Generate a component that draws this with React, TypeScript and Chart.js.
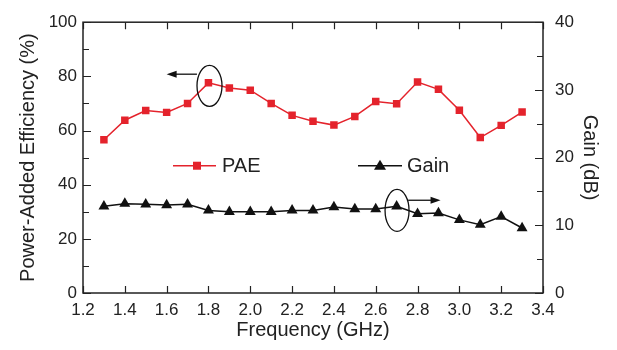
import React, { useEffect, useRef } from "react";
import { Chart, registerables } from "chart.js";

Chart.register(...registerables);

// ---- data ----
const frequencies = [1.3, 1.4, 1.5, 1.6, 1.7, 1.8, 1.9, 2.0, 2.1, 2.2, 2.3, 2.4, 2.5, 2.6, 2.7, 2.8, 2.9, 3.0, 3.1, 3.2, 3.3];
const paeValues = [56.6, 63.8, 67.4, 66.7, 70.0, 77.6, 75.7, 74.9, 70.0, 65.6, 63.4, 62.0, 65.2, 70.7, 69.9, 77.9, 75.2, 67.5, 57.4, 61.9, 66.8];
const gainValues = [12.8, 13.2, 13.1, 13.0, 13.1, 12.2, 12.0, 12.0, 12.0, 12.2, 12.2, 12.7, 12.4, 12.4, 12.8, 11.7, 11.8, 10.8, 10.1, 11.3, 9.6];
const seriesNames = ["PAE", "Gain"];
const xTickRange = [1.2, 3.4];
const paeAxisRange = [0, 100];
const gainAxisRange = [0, 40];

const RED = "#e4232c";
const BLACK = "#111111";
const TEXT = "#222222";
const FONT = "'Liberation Sans', Arial, sans-serif";

const decorPlugin = {
  id: "decor",
  afterDraw(chart: any) {
    const { ctx, chartArea } = chart;
    const { left, right, top, bottom } = chartArea;
    const xs = chart.scales.x;
    const ys = chart.scales.y;
    const y2 = chart.scales.y2;
    ctx.save();
    // frame
    ctx.strokeStyle = "#222";
    ctx.lineWidth = 1.5;
    ctx.strokeRect(left, top, right - left, bottom - top);

    // ticks
    ctx.lineWidth = 1.2;
    ctx.beginPath();
    for (let v = xTickRange[0]; v <= xTickRange[1] + 1e-6; v += 0.2) {
      const px = Math.round(xs.getPixelForValue(v)) + 0.5;
      ctx.moveTo(px, bottom);
      ctx.lineTo(px, bottom - 7);
      ctx.moveTo(px, top);
      ctx.lineTo(px, top + 7);
    }
    for (let v = paeAxisRange[0]; v <= paeAxisRange[1]; v += 10) {
      const py = Math.round(ys.getPixelForValue(v)) + 0.5;
      const len = v % 20 === 0 ? 8 : 6;
      ctx.moveTo(left, py);
      ctx.lineTo(left + len, py);
    }
    for (let v = gainAxisRange[0]; v <= gainAxisRange[1]; v += 5) {
      const py = Math.round(y2.getPixelForValue(v)) + 0.5;
      const len = v % 10 === 0 ? 8 : 6;
      ctx.moveTo(right, py);
      ctx.lineTo(right - len, py);
    }
    ctx.stroke();

    // legend
    const ly = top + (bottom - top) * 0.53;
    ctx.font = `20px ${FONT}`;
    ctx.textBaseline = "middle";
    // PAE
    ctx.strokeStyle = RED;
    ctx.lineWidth = 1.5;
    ctx.beginPath();
    ctx.moveTo(173, ly);
    ctx.lineTo(216, ly);
    ctx.stroke();
    ctx.fillStyle = RED;
    ctx.fillRect(197 - 4, ly - 4, 8, 8);
    ctx.fillStyle = TEXT;
    ctx.fillText(seriesNames[0], 222, ly + 1);
    // Gain
    ctx.strokeStyle = BLACK;
    ctx.beginPath();
    ctx.moveTo(358, ly);
    ctx.lineTo(402, ly);
    ctx.stroke();
    ctx.fillStyle = BLACK;
    ctx.beginPath();
    ctx.moveTo(380, ly - 6);
    ctx.lineTo(386, ly + 4);
    ctx.lineTo(374, ly + 4);
    ctx.closePath();
    ctx.fill();
    ctx.fillStyle = TEXT;
    ctx.fillText(seriesNames[1], 407, ly + 1);

    // annotations: ellipses + arrows
    const drawArrow = (x1: number, x2: number, y: number) => {
      const dir = Math.sign(x2 - x1);
      ctx.strokeStyle = BLACK;
      ctx.lineWidth = 1.3;
      ctx.beginPath();
      ctx.moveTo(x1, y);
      ctx.lineTo(x2 - dir * 8, y);
      ctx.stroke();
      ctx.fillStyle = BLACK;
      ctx.beginPath();
      ctx.moveTo(x2, y);
      ctx.lineTo(x2 - dir * 10, y - 3.5);
      ctx.lineTo(x2 - dir * 10, y + 3.5);
      ctx.closePath();
      ctx.fill();
    };
    ctx.strokeStyle = BLACK;
    ctx.lineWidth = 1.3;
    // ellipse on PAE near 1.8 GHz
    const e1x = xs.getPixelForValue(1.805);
    const e1y = ys.getPixelForValue(76.5);
    ctx.beginPath();
    ctx.ellipse(e1x, e1y, 12.5, 20.5, 0, 0, Math.PI * 2);
    ctx.stroke();
    drawArrow(xs.getPixelForValue(1.745), xs.getPixelForValue(1.6), ys.getPixelForValue(80.8));
    // ellipse on Gain near 2.7 GHz
    const e2x = xs.getPixelForValue(2.702);
    const e2y = y2.getPixelForValue(12.2);
    ctx.strokeStyle = BLACK;
    ctx.lineWidth = 1.3;
    ctx.beginPath();
    ctx.ellipse(e2x, e2y, 12, 21, 0, 0, Math.PI * 2);
    ctx.stroke();
    drawArrow(xs.getPixelForValue(2.755), xs.getPixelForValue(2.91), y2.getPixelForValue(13.7));

    ctx.restore();
  },
};

export default function App() {
  const canvasRef = useRef<HTMLCanvasElement | null>(null);

  useEffect(() => {
    if (!canvasRef.current) return;
    const chart = new Chart(canvasRef.current, {
      type: "line",
      data: {
        datasets: [
          {
            label: seriesNames[0],
            data: frequencies.map((f, i) => ({ x: f, y: paeValues[i] })),
            borderColor: RED,
            backgroundColor: RED,
            borderWidth: 1.5,
            pointStyle: "rect",
            pointRadius: 5.3,
            pointBorderWidth: 0,
            yAxisID: "y",
            tension: 0,
          },
          {
            label: seriesNames[1],
            data: frequencies.map((f, i) => ({ x: f, y: gainValues[i] })),
            borderColor: BLACK,
            backgroundColor: BLACK,
            borderWidth: 1.5,
            pointStyle: "triangle",
            pointRadius: 6.3,
            pointBorderWidth: 0,
            yAxisID: "y2",
            tension: 0,
          },
        ],
      },
      options: {
        animation: false,
        responsive: false,
        maintainAspectRatio: false,
        layout: { padding: { top: 15, left: 0, right: 0, bottom: 0 } },
        plugins: {
          legend: { display: false },
          tooltip: { enabled: false },
        },
        scales: {
          x: {
            type: "linear",
            min: xTickRange[0],
            max: xTickRange[1],
            grid: { display: false, drawTicks: false },
            border: { display: false },
            ticks: {
              stepSize: 0.2,
              padding: 7,
              color: TEXT,
              font: { family: FONT, size: 17 },
              callback: (v: any) => Number(v).toFixed(1),
            },
            title: {
              display: true,
              text: "Frequency (GHz)",
              color: TEXT,
              font: { family: FONT, size: 20 },
              padding: { top: 0, bottom: 8 },
            },
            afterFit: (s: any) => {
              s.height = 57;
            },
          },
          y: {
            type: "linear",
            position: "left",
            min: paeAxisRange[0],
            max: paeAxisRange[1],
            grid: { display: false, drawTicks: false },
            border: { display: false },
            ticks: {
              stepSize: 20,
              padding: 6,
              color: TEXT,
              font: { family: FONT, size: 17 },
            },
            title: {
              display: true,
              text: "Power-Added Efficiency (%)",
              color: TEXT,
              font: { family: FONT, size: 20 },
              padding: { top: 16, bottom: 0 },
            },
            afterFit: (s: any) => {
              s.width = 83;
            },
          },
          y2: {
            type: "linear",
            position: "right",
            min: gainAxisRange[0],
            max: gainAxisRange[1],
            grid: { display: false, drawTicks: false },
            border: { display: false },
            ticks: {
              stepSize: 10,
              padding: 12,
              color: TEXT,
              font: { family: FONT, size: 17 },
            },
            title: {
              display: true,
              text: "Gain (dB)",
              color: TEXT,
              font: { family: FONT, size: 20 },
              padding: { top: 15, bottom: 0 },
            },
            afterFit: (s: any) => {
              s.width = 74;
            },
          },
        },
      },
      plugins: [decorPlugin],
    });
    return () => chart.destroy();
  }, []);

  return (
    <div style={{ position: "absolute", left: 0, top: 0, width: 617, height: 350, background: "#fff" }}>
      <canvas ref={canvasRef} width={617} height={350} style={{ width: 617, height: 350, display: "block" }} />
    </div>
  );
}
